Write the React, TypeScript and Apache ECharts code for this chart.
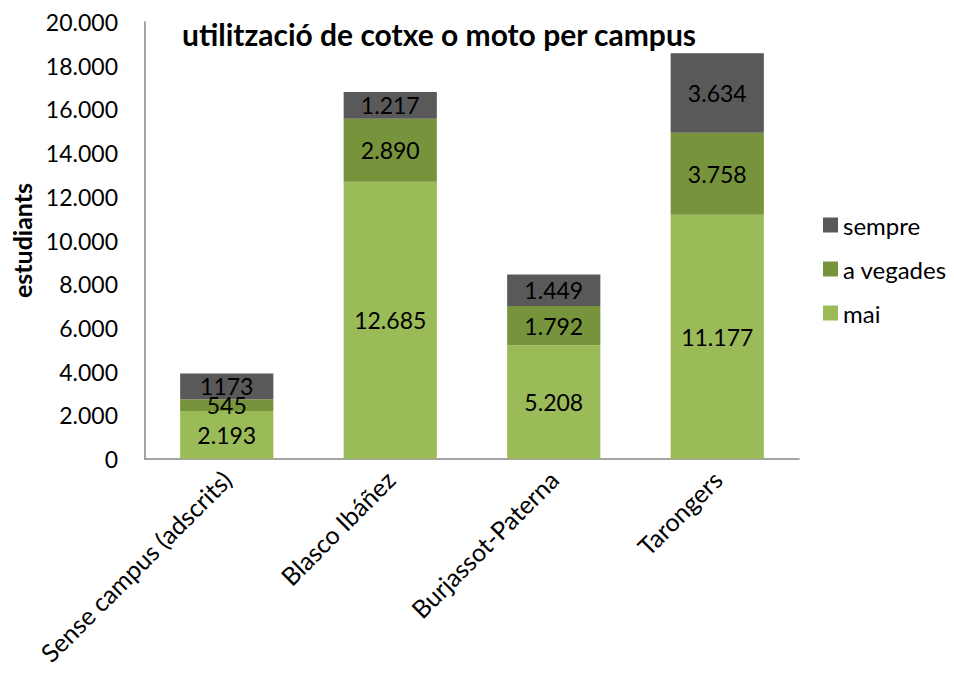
import React, { useEffect, useRef } from "react";
import * as echarts from "echarts";

const categories = ["Sense campus (adscrits)", "Blasco Ibáñez", "Burjassot-Paterna", "Tarongers"];
const mai = [2193, 12685, 5208, 11177];
const aVegades = [545, 2890, 1792, 3758];
const sempre = [1173, 1217, 1449, 3634];
const maiLabels = ["2.193", "12.685", "5.208", "11.177"];
const aVegadesLabels = ["545", "2.890", "1.792", "3.758"];
const sempreLabels = ["1173", "1.217", "1.449", "3.634"];
const yTickLabels = ["0", "2.000", "4.000", "6.000", "8.000", "10.000", "12.000", "14.000", "16.000", "18.000", "20.000"];

const FONT = "Lato, 'Open Sans', sans-serif";

export default function App() {
  const ref = useRef<HTMLDivElement>(null);
  useEffect(() => {
    if (!ref.current) return;
    const chart = echarts.init(ref.current, null, { renderer: "svg" });
    const mkLabel = (labels: string[]) => ({
      show: true,
      position: "inside",
      color: "#000",
      fontSize: 23,
      fontFamily: FONT,
      formatter: (p: any) => labels[p.dataIndex],
    });
    chart.setOption({
      animation: false,
      textStyle: { fontFamily: FONT },
      title: {
        text: "utilització de cotxe o moto per campus",
        left: 177,
        top: 14,
        textStyle: { fontSize: 30, fontWeight: "bold", color: "#000", fontFamily: FONT },
      },
      legend: {
        orient: "vertical",
        left: 818,
        top: 208,
        itemWidth: 15,
        itemHeight: 15,
        itemGap: 20,
        icon: "rect",
        data: ["sempre", "a vegades", "mai"],
        textStyle: { fontSize: 24, color: "#000", fontFamily: FONT, lineHeight: 24 },
      },
      grid: { left: 145, top: 22, right: 155, bottom: 216, containLabel: false },
      xAxis: {
        type: "category",
        data: categories,
        axisLine: { lineStyle: { color: "#868686", width: 1.5 } },
        axisTick: { show: false },
        axisLabel: { rotate: 45, fontSize: 25, color: "#000", fontFamily: FONT, margin: 16, interval: 0 },
      },
      yAxis: {
        type: "value",
        min: 0,
        max: 20000,
        interval: 2000,
        name: "estudiants",
        nameLocation: "middle",
        nameGap: 110,
        nameTextStyle: { fontSize: 25, fontWeight: "bold", color: "#000", fontFamily: FONT },
        axisLine: { show: true, lineStyle: { color: "#868686", width: 1.5 } },
        axisTick: { show: false },
        splitLine: { show: false },
        axisLabel: {
          fontSize: 23,
          color: "#000",
          fontFamily: FONT,
          margin: 27,
          formatter: (v: number) => yTickLabels[Math.round(v / 2000)],
        },
      },
      series: [
        {
          name: "mai",
          type: "bar",
          stack: "t",
          data: mai,
          barWidth: "57%",
          itemStyle: { color: "#9BBB59" },
          label: mkLabel(maiLabels),
        },
        {
          name: "a vegades",
          type: "bar",
          stack: "t",
          data: aVegades,
          itemStyle: { color: "#77933C" },
          label: mkLabel(aVegadesLabels),
        },
        {
          name: "sempre",
          type: "bar",
          stack: "t",
          data: sempre,
          itemStyle: { color: "#595959" },
          label: mkLabel(sempreLabels),
        },
      ],
    });
    return () => chart.dispose();
  }, []);
  return <div ref={ref} style={{ width: 954, height: 675, margin: -8 }} />;
}
